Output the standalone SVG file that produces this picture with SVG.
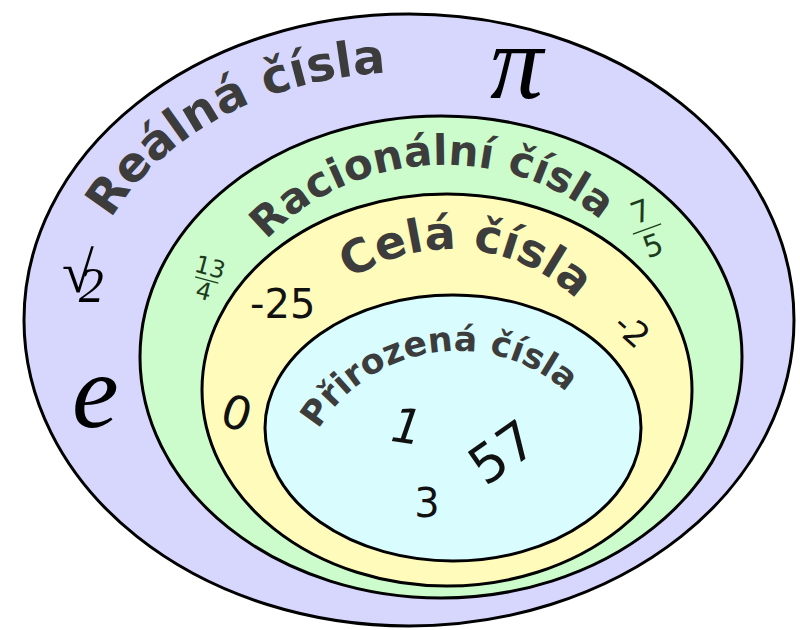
<svg xmlns="http://www.w3.org/2000/svg" xmlns:xlink="http://www.w3.org/1999/xlink" width="800" height="630" viewBox="0 0 800 630">
<style>
.set{stroke:#000;stroke-width:3}
.lbl{font-family:"DejaVu Sans",Verdana,sans-serif;font-weight:bold;fill:#3c3c3c}
.num{font-family:"DejaVu Sans",sans-serif;fill:#111}
.sym{font-family:"Liberation Serif","DejaVu Serif",serif;font-style:italic;fill:#000}
.frac{font-family:"DejaVu Sans",sans-serif;fill:#1d3b1d}
</style>
<defs>
<path id="pR" d="M 111.2 219.1 A 326 248 0 0 1 730 277"/>
<path id="pQ" d="M 266.6 240 A 238 224 0 0 1 679.4 353.5"/>
<path id="pZ" d="M 271 412.1 A 181 181 0 0 1 631.6 443.6"/>
<path id="pN" d="M 296.4 536.3 A 163 163 0 0 1 618.8 488.1"/>
</defs>
<rect width="800" height="630" fill="#fff"/>
<g id="real">
<ellipse class="set" cx="409" cy="320" rx="385" ry="306" fill="#d7d7fd"/>
<text class="lbl" font-size="48"><textPath xlink:href="#pR">Reálná čísla</textPath></text>
<text class="sym" x="490" y="98" font-size="106">π</text>
<text class="sym" x="62" y="292"><tspan font-size="58">√</tspan><tspan font-size="50" dx="-15" dy="10">2</tspan></text>
<text class="sym" x="72" y="427" font-size="105">e</text>
</g>
<g id="rational">
<ellipse class="set" cx="441" cy="357" rx="301" ry="241" fill="#ccfccb"/>
<text class="lbl" font-size="42"><textPath xlink:href="#pQ">Racionální čísla</textPath></text>
<g transform="rotate(15 207 279)">
<text class="frac" x="207" y="275" font-size="24" text-anchor="middle">13</text>
<line x1="195" y1="280" x2="219" y2="280" stroke="#1d3b1d" stroke-width="1.2"/>
<text class="frac" x="207" y="300" font-size="24" text-anchor="middle">4</text>
</g>
<g transform="rotate(-20 647 229)">
<text class="frac" x="647" y="221" font-size="30" text-anchor="middle">7</text>
<line x1="632" y1="229" x2="662" y2="229" stroke="#1d3b1d" stroke-width="1.2"/>
<text class="frac" x="647" y="257" font-size="30" text-anchor="middle">5</text>
</g>
</g>
<g id="integer">
<ellipse class="set" cx="447" cy="390" rx="245" ry="196" fill="#fffbba"/>
<text class="lbl" font-size="46" text-anchor="middle"><textPath xlink:href="#pZ" startOffset="50%">Celá čísla</textPath></text>
<text class="num" x="250" y="318" font-size="40">-25</text>
<text class="num" font-size="34" text-anchor="middle" transform="translate(632 330) rotate(42)" y="12">-2</text>
<text class="num" font-size="46" text-anchor="middle" transform="translate(237 412) rotate(18)" y="17">0</text>
</g>
<g id="natural">
<ellipse class="set" cx="453" cy="428" rx="188" ry="133" fill="#d9fcff"/>
<text class="lbl" font-size="34.5" text-anchor="middle"><textPath xlink:href="#pN" startOffset="50%">Přirozená čísla</textPath></text>
<text class="num" font-size="48" font-style="italic" text-anchor="middle" transform="translate(407 426) rotate(8)" y="17">1</text>
<text class="num" font-size="53" text-anchor="middle" transform="translate(502 452) rotate(-35)" y="19">57</text>
<text class="num" x="427" y="517" font-size="40" text-anchor="middle">3</text>
</g>
</svg>
